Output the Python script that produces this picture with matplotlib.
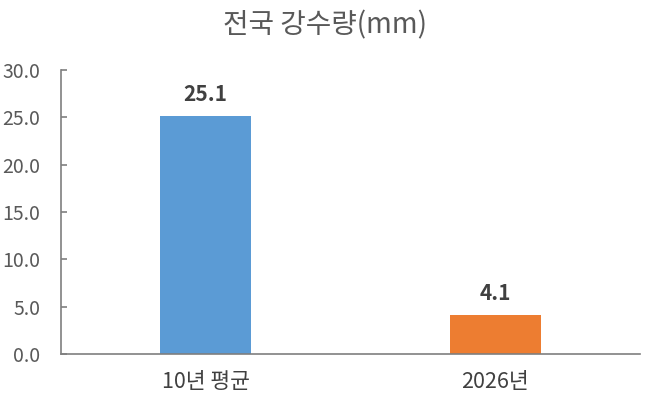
import matplotlib
matplotlib.use("Agg")
import matplotlib.pyplot as plt

plt.rcParams['font.family'] = ['Noto Sans CJK KR', 'DejaVu Sans']

# Chart data
categories = ["10년 평균", "2026년"]
values = [25.1, 4.1]
bar_colors = ["#5B9BD5", "#ED7D31"]
y_ticks = [0, 5, 10, 15, 20, 25, 30]

text_gray = "#595959"
axis_gray = "#7F7F7F"

fig = plt.figure(figsize=(6.5, 4.01), dpi=100)
# Axes placed to match the reference pixel layout
ax = fig.add_axes([61 / 650, 1 - 354 / 401, 579 / 650, (354 - 70) / 401])

x = range(len(categories))
bars = ax.bar(x, values, width=0.315, color=bar_colors, zorder=2)

# Data labels above bars
for bar, v in zip(bars, values):
    ax.annotate(f"{v:.1f}", (bar.get_x() + bar.get_width() / 2, v),
                xytext=(0, 8), textcoords="offset points",
                ha="center", va="bottom", fontsize=15, fontweight="bold",
                color="#404040")

ax.set_xlim(-0.5, 1.5)
ax.set_ylim(0, 30)
ax.set_yticks(y_ticks)
ax.set_yticklabels([f"{t:.1f}" for t in y_ticks])
ax.set_xticks(list(x))
ax.set_xticklabels(categories)

ax.tick_params(axis="y", direction="in", length=4, width=1.2, color=axis_gray,
               labelsize=14, labelcolor=text_gray, pad=15)
ax.tick_params(axis="x", length=0, labelsize=15.5, labelcolor="#404040", pad=12)

for side in ["top", "right"]:
    ax.spines[side].set_visible(False)
for side in ["left", "bottom"]:
    ax.spines[side].set_color(axis_gray)
    ax.spines[side].set_linewidth(1.2)

fig.text(0.5, 1 - 25 / 401, "전국 강수량(mm)", ha="center", va="center",
         fontsize=20, color=text_gray)

fig.savefig("out.png", dpi=100)
